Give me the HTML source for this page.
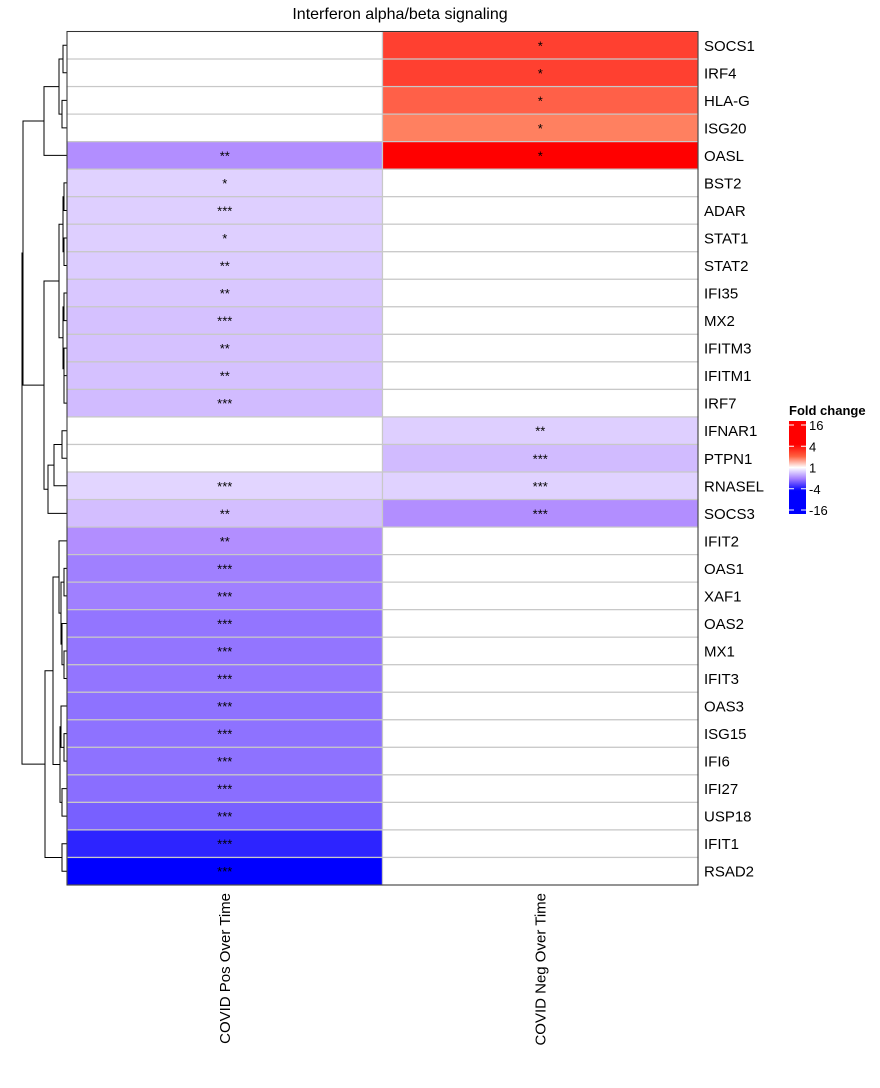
<!DOCTYPE html>
<html><head><meta charset="utf-8"><style>
body{margin:0;background:#fff;font-family:"Liberation Sans",Arial,sans-serif;}
svg text{font-family:"Liberation Sans",Arial,sans-serif;}
</style></head><body>
<svg id="chart" width="880" height="1083" xmlns="http://www.w3.org/2000/svg">
<text x="400" y="19" font-size="16" text-anchor="middle">Interferon alpha/beta signaling</text>
<g id="cells"></g><g id="dendro"></g><g id="labels"></g>
<rect x="67" y="31.5" width="631" height="853.5" fill="none" stroke="#333" stroke-width="1"/>
<g>
<text x="789" y="415" font-size="13" font-weight="bold">Fold change</text>
<defs><linearGradient id="lg" x1="0" y1="0" x2="0" y2="1">
<stop offset="0" stop-color="#ff0000"/><stop offset="0.25" stop-color="#ff0000"/><stop offset="0.38" stop-color="#ff6040"/><stop offset="0.5" stop-color="#ffffff"/><stop offset="0.62" stop-color="#a57fff"/><stop offset="0.75" stop-color="#0000ff"/><stop offset="1" stop-color="#0000ff"/></linearGradient></defs>
<rect x="789" y="421" width="17" height="93" fill="url(#lg)"/>
<g id="legticks"></g>
</g>
</svg>
<script>
const genes=["SOCS1","IRF4","HLA-G","ISG20","OASL","BST2","ADAR","STAT1","STAT2","IFI35","MX2","IFITM3","IFITM1","IRF7","IFNAR1","PTPN1","RNASEL","SOCS3","IFIT2","OAS1","XAF1","OAS2","MX1","IFIT3","OAS3","ISG15","IFI6","IFI27","USP18","IFIT1","RSAD2"];
const columns=["COVID Pos Over Time","COVID Neg Over Time"];
const posLog2=[null,null,null,null,-2.0,-0.8,-0.85,-0.85,-0.9,-1.0,-1.1,-1.1,-1.1,-1.2,null,null,-0.75,-1.15,-2.0,-2.2,-2.2,-2.35,-2.35,-2.35,-2.4,-2.4,-2.4,-2.45,-2.65,-3.5,-4];
const negLog2=[3.0,3.0,2.5,2.0,4,null,null,null,null,null,null,null,null,null,-0.85,-1.2,-0.8,-2.0,null,null,null,null,null,null,null,null,null,null,null,null,null];
const posSig=["","","","","**","*","***","*","**","**","***","**","**","***","","","***","**","**","***","***","***","***","***","***","***","***","***","***","***","***"];
const negSig=["*","*","*","*","*","","","","","","","","","","**","***","***","***","","","","","","","","","","","","",""];
const legLabels=["16","4","1","-4","-16"];
const legVals=[4,2,0,-2,-4];

const NS="http://www.w3.org/2000/svg";
const X0=67,X1=698,Y0=31.5,Y1=885;
const rowH=(Y1-Y0)/genes.length, colW=(X1-X0)/columns.length;
const yRow=i=>Y0+i*rowH, yMid=i=>Y0+(i+0.5)*rowH, xCol=j=>X0+j*colW;
function lerp(a,b,t){return a.map((v,k)=>Math.round(v+(b[k]-v)*t));}
function color(v){
 if(v==null)return "#ffffff";
 const W=[255,255,255],P=[178,142,255],B=[0,0,255],O=[255,128,96],R=[255,0,0];let c;
 if(v>=0){c=v<=2?lerp(W,O,v/2):lerp(O,R,Math.min(1,(v-2)/2));}
 else{const a=-v;c=a<=2?lerp(W,P,a/2):lerp(P,B,Math.min(1,(a-2)/2));}
 return "rgb("+c[0]+","+c[1]+","+c[2]+")";}
function mk(tag,attrs,parent){const e=document.createElementNS(NS,tag);for(const k in attrs)e.setAttribute(k,attrs[k]);parent.appendChild(e);return e;}
const cells=document.getElementById('cells'),labels=document.getElementById('labels');
const series=[posLog2,negLog2],sigs=[posSig,negSig];
for(let j=0;j<2;j++)for(let i=0;i<genes.length;i++){
 const r=mk('rect',{x:xCol(j),y:yRow(i),width:colW,height:rowH,fill:color(series[j][i]),stroke:"#c8c8c8","stroke-width":1.2},cells);
 
 
 if(sigs[j][i]){const t=mk('text',{x:xCol(j)+colW/2,y:yMid(i)+5,"font-size":13,"text-anchor":"middle"},cells);t.textContent=sigs[j][i];
 
 }
}
genes.forEach((g,i)=>{const t=mk('text',{x:704,y:yMid(i)+5.5,"font-size":15},labels);t.textContent=g;
 
 });
columns.forEach((c,j)=>{const cx=xCol(j)+colW/2+5;const t=mk('text',{x:cx,y:893,"font-size":15,"text-anchor":"end",transform:"rotate(-90 "+cx+" 893)"},labels);t.textContent=c;
 
 });
const lt=document.getElementById('legticks');
legVals.forEach((v,k)=>{const yy=421+(4-v)/8*(93-8)+4;
 mk('line',{x1:789,x2:794,y1:yy,y2:yy,stroke:"#fff","stroke-width":1},lt);
 mk('line',{x1:801,x2:806,y1:yy,y2:yy,stroke:"#fff","stroke-width":1},lt);
 const t=mk('text',{x:809,y:yy+5,"font-size":13},lt);t.textContent=legLabels[k];
 
 });
// dendrogram
const T=[[[0,1,63],[2,3,62],59],4,44];
const Mid=[[[5,6,64],[7,8,64],63],[[9,10,64],[11,[12,13,64],64],63],59];
const Rg=[[[14,15,62],16,54],17,48];
const Mg=[Mid,Rg,44];
const A=[T,Mg,23];
const B1a=[18,[[19,20,64],[21,[22,23,64],62],61],59];
const B1b=[[24,[25,26,64],61],[27,28,62],60];
const B1=[B1a,B1b,53];
const Bg=[B1,[29,30,62],45];
const root=[A,Bg,22];
const dg=document.getElementById('dendro');
function draw(n){
 if(typeof n==='number')return {x:X0,y:yMid(n)};
 const a=draw(n[0]),b=draw(n[1]),x=n[2];
 const p=mk('path',{d:"M"+a.x+","+a.y+"H"+x+"V"+b.y+"H"+b.x,fill:"none",stroke:"#000","stroke-width":1},dg);
 
 
 return {x:x,y:(a.y+b.y)/2};}
draw(root);
</script>
</body></html>
